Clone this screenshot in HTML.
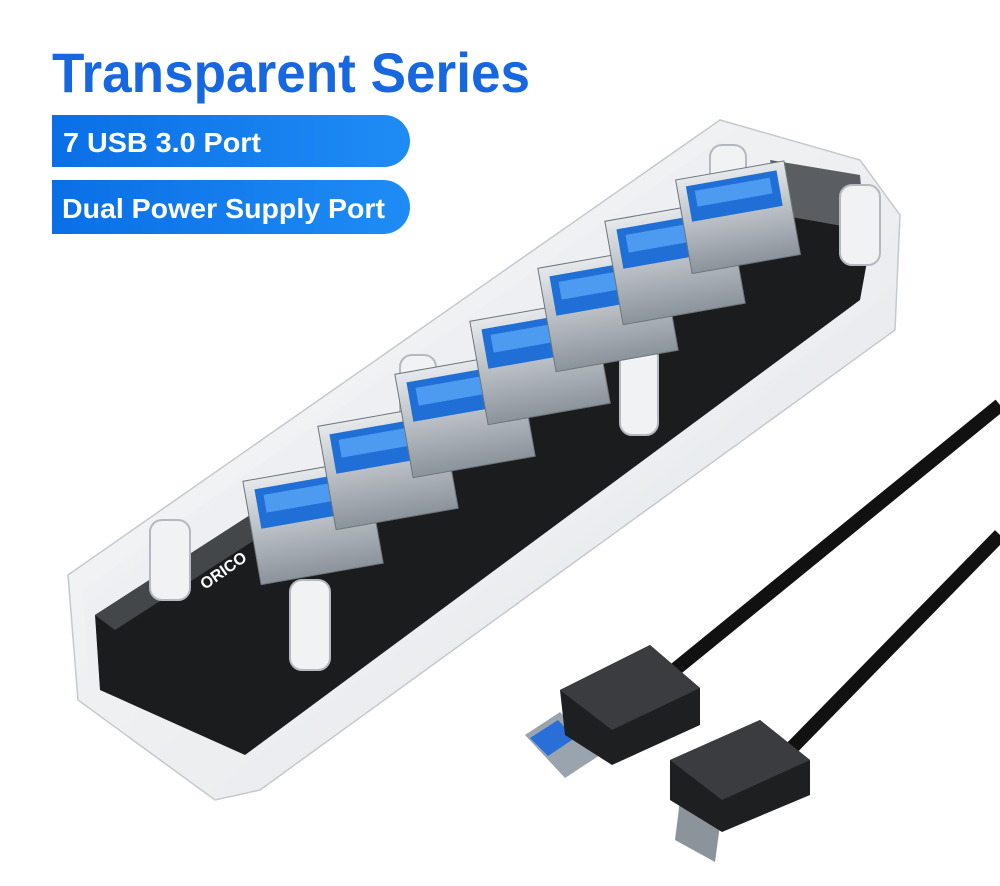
<!DOCTYPE html>
<html><head><meta charset="utf-8"><style>
html,body{margin:0;padding:0;background:#fff;}
svg{display:block;}
</style></head><body>
<svg width="1000" height="886" viewBox="0 0 1000 886" xmlns="http://www.w3.org/2000/svg">
<defs>
<linearGradient id="pill" x1="0" y1="0" x2="1" y2="0">
<stop offset="0" stop-color="#0a6fe6"/><stop offset="1" stop-color="#1f8cf5"/></linearGradient>
<linearGradient id="case" x1="0" y1="0" x2="1" y2="1">
<stop offset="0" stop-color="#f7f8f9"/><stop offset="1" stop-color="#e3e6e9"/></linearGradient>
<linearGradient id="metal" x1="0" y1="0" x2="0" y2="1">
<stop offset="0" stop-color="#e6e9ec"/><stop offset="1" stop-color="#8b939b"/></linearGradient>
</defs>
<rect width="1000" height="886" fill="#fff"/>
<text x="52" y="92" font-family="Liberation Sans, sans-serif" font-weight="bold" font-size="56" fill="#1767e0" textLength="478" lengthAdjust="spacingAndGlyphs">Transparent Series</text>
<path d="M52 115 H384 A26 26 0 0 1 384 167 H52 Z" fill="url(#pill)"/>
<text x="63" y="152" font-family="Liberation Sans, sans-serif" font-weight="bold" font-size="28" fill="#fff" textLength="198" lengthAdjust="spacingAndGlyphs">7 USB 3.0 Port</text>
<path d="M52 180 H383 A27 27 0 0 1 383 234 H52 Z" fill="url(#pill)"/>
<text x="62" y="218" font-family="Liberation Sans, sans-serif" font-weight="bold" font-size="28" fill="#fff" textLength="323" lengthAdjust="spacingAndGlyphs">Dual Power Supply Port</text>

<!-- transparent case -->
<polygon points="68,575 720,120 860,160 900,215 895,330 260,790 215,800 78,700" fill="url(#case)" stroke="#c4c9ce" stroke-width="1.5"/>
<polygon points="82,590 720,140 880,225 880,300 250,760 90,680" fill="#eceff1" opacity="0.6"/>
<!-- PCB -->
<polygon points="95,615 770,180 870,245 860,300 245,755 100,690" fill="#1a1c1e"/>
<polygon points="95,615 770,180 790,195 115,630" fill="#44474a"/>
<polygon points="770,160 860,175 865,230 780,215" fill="#5a5e62"/>
<!-- pillars -->
<g fill="#f0f2f4" stroke="#b3b9bf" stroke-width="2">
<rect x="150" y="520" width="40" height="80" rx="12"/>
<rect x="290" y="580" width="40" height="90" rx="12"/>
<rect x="400" y="355" width="36" height="70" rx="12"/>
<rect x="620" y="345" width="38" height="90" rx="12"/>
<rect x="710" y="145" width="36" height="60" rx="12"/>
<rect x="840" y="185" width="40" height="80" rx="12"/>
</g>
<!-- ports -->
<g>
<g transform="translate(310,505) rotate(-10)"><rect x="-62" y="-35" width="124" height="105" fill="url(#metal)" stroke="#6d757c"/><rect x="-52" y="-25" width="104" height="40" fill="#1f6fd6"/><rect x="-44" y="-18" width="88" height="18" fill="#4c9bf0"/></g>
<g transform="translate(385,450) rotate(-10)"><rect x="-62" y="-35" width="124" height="105" fill="url(#metal)" stroke="#6d757c"/><rect x="-52" y="-25" width="104" height="40" fill="#1f6fd6"/><rect x="-44" y="-18" width="88" height="18" fill="#4c9bf0"/></g>
<g transform="translate(462,398) rotate(-10)"><rect x="-62" y="-35" width="124" height="105" fill="url(#metal)" stroke="#6d757c"/><rect x="-52" y="-25" width="104" height="40" fill="#1f6fd6"/><rect x="-44" y="-18" width="88" height="18" fill="#4c9bf0"/></g>
<g transform="translate(537,345) rotate(-10)"><rect x="-62" y="-35" width="124" height="105" fill="url(#metal)" stroke="#6d757c"/><rect x="-52" y="-25" width="104" height="40" fill="#1f6fd6"/><rect x="-44" y="-18" width="88" height="18" fill="#4c9bf0"/></g>
<g transform="translate(605,292) rotate(-10)"><rect x="-62" y="-35" width="124" height="105" fill="url(#metal)" stroke="#6d757c"/><rect x="-52" y="-25" width="104" height="40" fill="#1f6fd6"/><rect x="-44" y="-18" width="88" height="18" fill="#4c9bf0"/></g>
<g transform="translate(672,245) rotate(-10)"><rect x="-62" y="-35" width="124" height="105" fill="url(#metal)" stroke="#6d757c"/><rect x="-52" y="-25" width="104" height="40" fill="#1f6fd6"/><rect x="-44" y="-18" width="88" height="18" fill="#4c9bf0"/></g>
<g transform="translate(735,200) rotate(-10)"><rect x="-55" y="-30" width="110" height="95" fill="url(#metal)" stroke="#6d757c"/><rect x="-46" y="-22" width="92" height="36" fill="#1f6fd6"/><rect x="-38" y="-16" width="76" height="16" fill="#4c9bf0"/></g>
</g>
<text x="205" y="590" font-family="Liberation Sans, sans-serif" font-weight="bold" font-size="16" fill="#fff" transform="rotate(-35 205 590)">ORICO</text>
<!-- cables -->
<path d="M1000 405 L650 690" stroke="#111" stroke-width="14" fill="none"/>
<path d="M1000 535 L780 760" stroke="#111" stroke-width="14" fill="none"/>
<!-- plug 1 -->
<polygon points="525,735 560,712 600,755 565,778" fill="#9aa4ae"/>
<polygon points="530,738 558,720 575,738 548,756" fill="#2a6fd8"/>
<polygon points="560,690 650,645 700,688 700,725 612,765 565,735" fill="#1e1f21"/>
<polygon points="560,690 650,645 700,688 612,730" fill="#3a3c3f"/>
<!-- plug 2 -->
<polygon points="680,800 720,825 715,862 675,840" fill="#8c949b"/>
<polygon points="670,760 760,720 810,760 810,795 722,832 670,800" fill="#1e1f21"/>
<polygon points="670,760 760,720 810,760 722,800" fill="#3a3c3f"/>
</svg>
</body></html>
